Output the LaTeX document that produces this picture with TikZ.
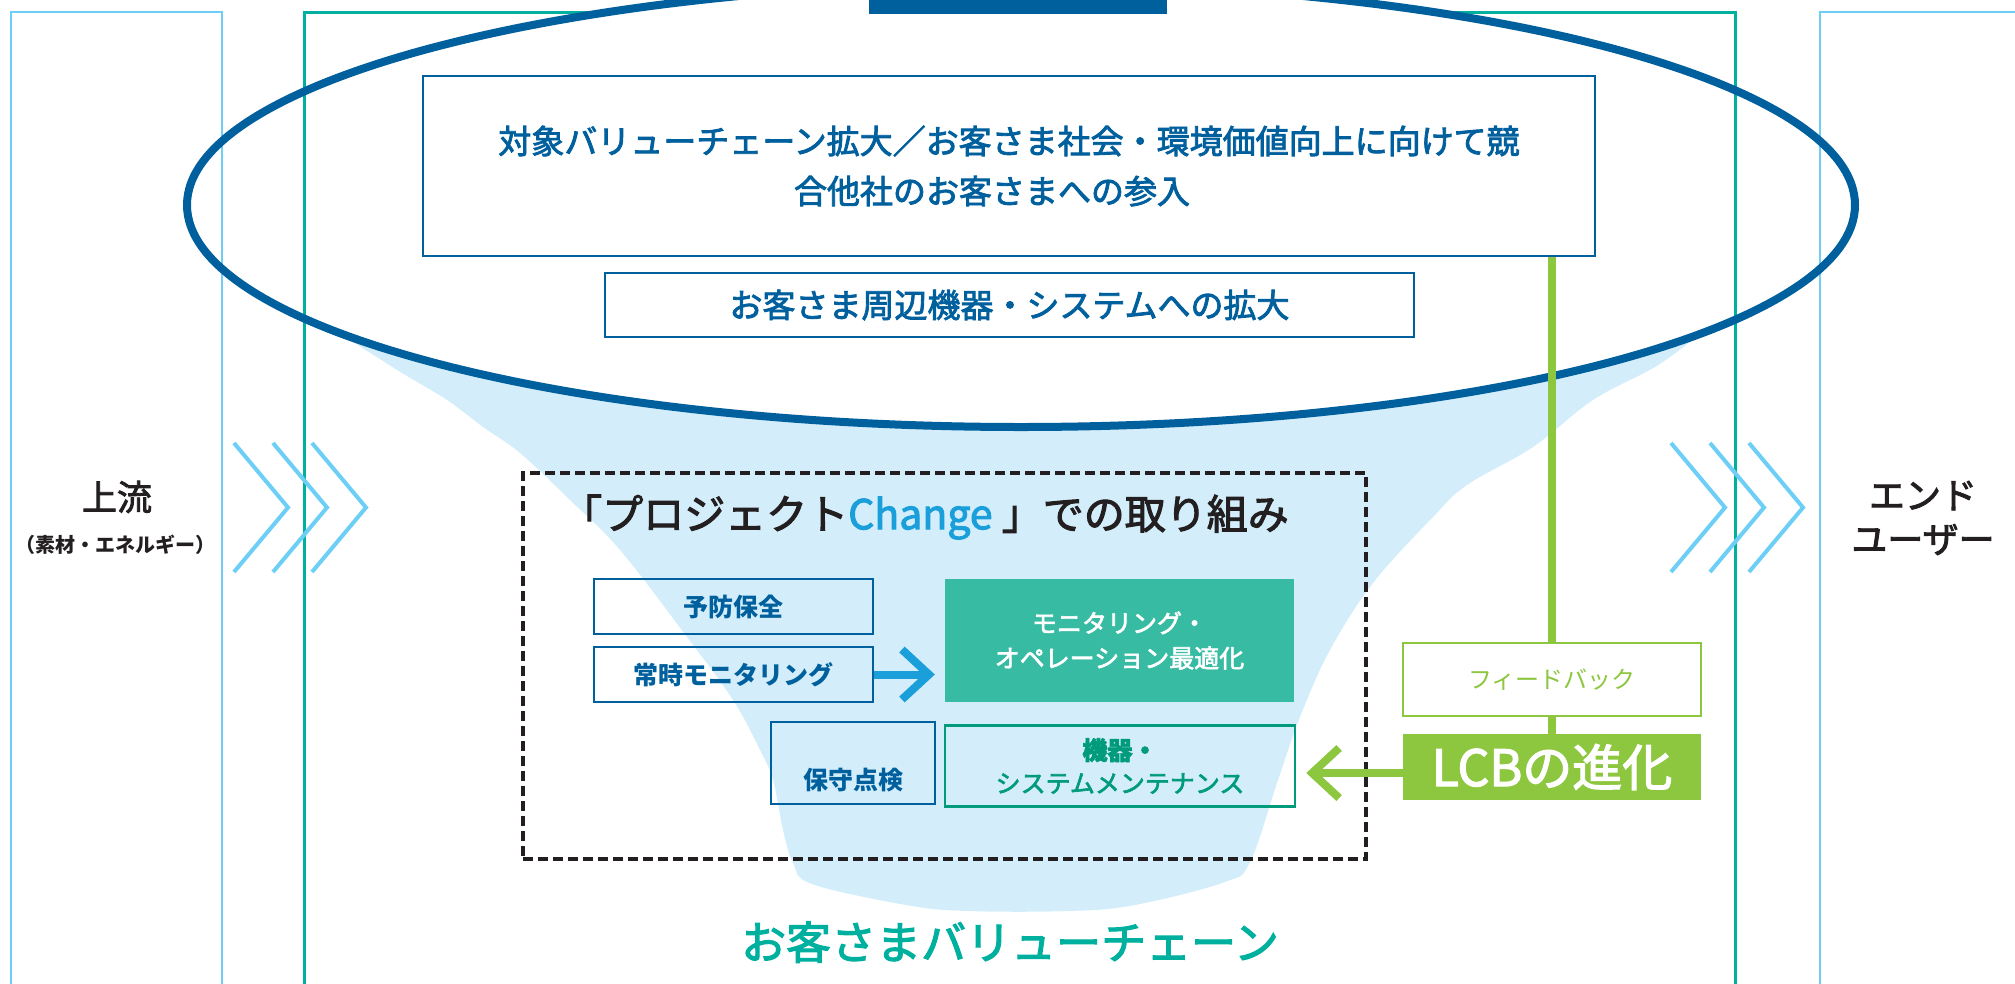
\documentclass[tikz,border=0pt]{standalone}
\usepackage{fontspec}
\setmainfont{Noto Sans CJK JP}
\newfontfamily\medfont{Noto Sans CJK JP}[FakeBold=2.5]
\usetikzlibrary{arrows.meta}
\definecolor{dblue}{HTML}{00609E}
\definecolor{ltblue}{HTML}{6DCFF6}
\definecolor{tealc}{HTML}{00B09F}
\definecolor{funnelc}{HTML}{D3EEFA}
\definecolor{cblue}{HTML}{1A9FDB}
\definecolor{optfill}{HTML}{38BBA3}
\definecolor{mtgreen}{HTML}{009B7A}
\definecolor{lgreen}{HTML}{8DC63F}
\definecolor{inkc}{HTML}{231F20}
\newcommand{\fsz}[2]{\fontsize{#1}{#2}\selectfont}
\begin{document}
\begin{tikzpicture}[x=1pt,y=-1pt,
  chev/.style={ltblue, line width=4pt},
  framelb/.style={ltblue, line width=2.7pt},
  frametl/.style={tealc, line width=3pt},
  bluebox/.style={draw=dblue, line width=2.5pt, fill=white, inner sep=0pt, text=dblue, align=center},
  smallbox/.style={draw=dblue, line width=2.5pt, inner sep=0pt, text=dblue, align=center, font=\fsz{25}{32}\bfseries},
  optbox/.style={fill=optfill, inner sep=0pt, text=white, align=center, font=\medfont\fsz{25}{35}},
  mtbox/.style={draw=mtgreen, line width=2.5pt, inner sep=0pt, text=mtgreen, align=center, font=\medfont\fsz{25}{33}},
  fbbox/.style={draw=lgreen, line width=2.5pt, fill=white, inner sep=0pt, text=lgreen, font=\fsz{24}{30}},
  lcbbox/.style={fill=lgreen, inner sep=0pt, text=white, font=\medfont\fsz{50}{60}},
  dashbox/.style={draw=inkc, line width=3.2pt, dash pattern=on 10pt off 5pt, inner sep=0pt},
  sidelabel/.style={text=inkc, align=center},
  garrow/.style={lgreen, line width=8pt, -{Straight Barb[length=27pt, width=50pt]}},
  barrow/.style={cblue, line width=8pt, -{Straight Barb[length=27pt, width=50pt]}}
]
\useasboundingbox (0,0) rectangle (2015,983);
% funnel
\fill[funnelc] plot[smooth, tension=0.6] coordinates {(350,340) (402,373) (447,400) (483,427) (520,453) (570,500) (620,550) (687,637) (733,700) (760,750) (773,780) (783,830) (793,863) (812,884) (906,905) (967,911) (1070,911) (1135,905) (1225,882) (1250,862) (1277,783) (1300,717) (1330,650) (1373,583) (1433,517) (1467,485) (1533,447) (1593,400) (1655,367) (1695,338)} -- (1700,250) -- (340,250) -- cycle;
% frames (tops)
\draw[framelb] (11,990) -- (11,12) -- (222,12) -- (222,990);
\draw[framelb] (1820,990) -- (1820,12) -- (2030,12);
\draw[frametl] (304,990) -- (304,12) -- (1735,12) -- (1735,990);
% ellipse interior
\fill[white] (1021,205) ellipse [x radius=834, y radius=222];
\draw[framelb] (222,12) -- (222,990);
\draw[framelb] (1820,12) -- (1820,990);
\draw[frametl] (304,12) -- (304,990);
\draw[frametl] (1735,12) -- (1735,990);
\draw[dblue, line width=8pt] (1021,205) ellipse [x radius=834, y radius=222];
\fill[dblue] (869,-5) rectangle (1167,14);
% chevrons
\foreach \x in {234,273,312} \draw[chev] (\x,443) -- (\x+54,507.5) -- (\x,572);
\foreach \x in {1671,1710,1749} \draw[chev] (\x,443) -- (\x+54,507.5) -- (\x,572);
% side labels
\node[sidelabel, font=\medfont\fsz{35}{40}] (up) at (117,497) {上流};
\node[sidelabel, font=\fsz{20}{24}\bfseries] (upsub) at (115,545) {（素材・エネルギー）};
\node[sidelabel, font=\medfont\fsz{36}{44}] (endu) at (1923,518) {エンド\\ユーザー};
% top boxes
\node[bluebox, minimum width=1172pt, minimum height=180pt, font=\medfont\fsz{33}{50}] (goal) at (1009,166) {対象バリューチェーン拡大／お客さま社会・環境価値向上に向けて競\\合他社のお客さまへの参入\hspace*{34pt}};
\node[bluebox, minimum width=809pt, minimum height=64pt, font=\medfont\fsz{33}{40}] (periph) at (1009.5,305) {お客さま周辺機器・システムへの拡大};
% project box
\node[dashbox, minimum width=843pt, minimum height=386pt] (proj) at (944.5,666) {};
\node[text=inkc, font=\medfont\fsz{41}{48}] (ptitle) at (925,517) {「プロジェクト{\color{cblue}Change} 」での取り組み};
\node[smallbox, minimum width=279pt, minimum height=55pt] (yobo) at (733.5,606.5) {予防保全};
\node[smallbox, minimum width=279pt, minimum height=55pt] (joji) at (733.5,674.5) {常時モニタリング};
\node[smallbox, minimum width=164pt, minimum height=82pt] (hoshu) at (853,763) {};
\node[text=dblue, font=\fsz{25}{32}\bfseries, inner sep=0pt] (hoshutxt) at (853,780) {保守点検};
\node[optbox, minimum width=349pt, minimum height=123pt] (opt) at (1119.5,640.5) {モニタリング・\\オペレーション最適化};
\node[mtbox, minimum width=350pt, minimum height=81pt] (mt) at (1120,766) {\textbf{機器・}\\システムメンテナンス};
\draw[barrow] (joji.east) -- ([xshift=-10pt]opt.west |- joji.east);
% feedback
\node[fbbox, minimum width=298pt, minimum height=73pt] (fb) at (1552,679.5) {フィードバック};
\node[lcbbox, minimum width=298pt, minimum height=66pt] (lcb) at (1552,767) {LCBの進化};
\draw[lgreen, line width=8pt] (goal.south -| fb.north) -- (fb.north);
\draw[lgreen, line width=8pt] (fb.south) -- (lcb.north);
\draw[garrow] ([yshift=-6pt]lcb.west) -- ([xshift=10pt,yshift=-6pt]mt.east |- lcb.west);
% bottom title
\node[text=tealc, font=\medfont\fsz{45}{54}] (vc) at (1010,942) {お客さまバリューチェーン};
\end{tikzpicture}
\end{document}
